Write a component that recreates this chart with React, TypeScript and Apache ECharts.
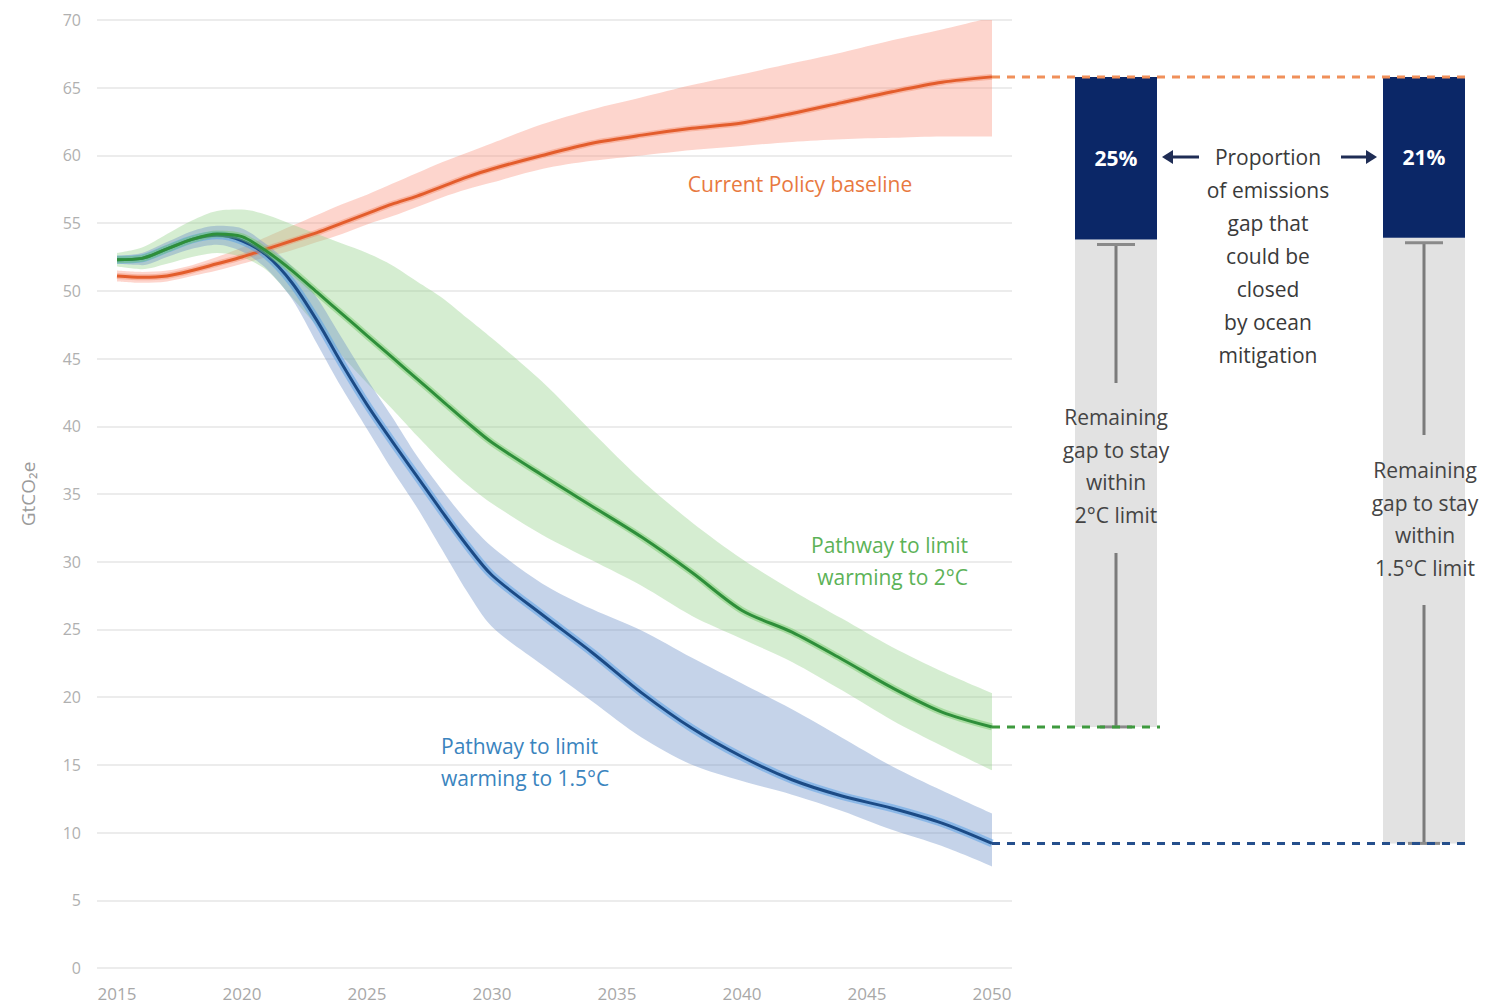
import React, { useEffect, useRef } from "react";
import * as echarts from "echarts";

// ---------- data ----------
const YEARS = [2015, 2016, 2017, 2018, 2019, 2020, 2021, 2022, 2023, 2024, 2025, 2026, 2027, 2028, 2029, 2030, 2032, 2034, 2036, 2038, 2040, 2042, 2044, 2046, 2048, 2050];

const BASELINE = [51.1, 51.0, 51.1, 51.5, 52.0, 52.5, 53.1, 53.7, 54.3, 55.0, 55.7, 56.4, 57.0, 57.7, 58.4, 59.0, 60.0, 60.9, 61.5, 62.0, 62.4, 63.1, 63.9, 64.7, 65.4, 65.8];
const BASELINE_HIGH = [51.5, 51.4, 51.5, 51.9, 52.5, 53.2, 54.0, 54.8, 55.6, 56.4, 57.1, 57.9, 58.7, 59.5, 60.2, 60.9, 62.3, 63.4, 64.3, 65.2, 66.0, 66.8, 67.6, 68.5, 69.3, 70.2];
const BASELINE_LOW = [50.7, 50.6, 50.7, 51.1, 51.5, 52.0, 52.5, 53.0, 53.6, 54.2, 54.9, 55.5, 56.2, 56.9, 57.5, 58.0, 59.0, 59.6, 60.0, 60.4, 60.7, 61.0, 61.2, 61.3, 61.4, 61.4];

const PATH_2C = [52.3, 52.4, 53.1, 53.8, 54.2, 54.0, 52.9, 51.5, 49.9, 48.3, 46.7, 45.1, 43.5, 41.9, 40.3, 38.8, 36.4, 34.1, 31.8, 29.2, 26.4, 24.8, 22.8, 20.7, 18.9, 17.8];
const PATH_2C_HIGH = [52.8, 53.2, 54.2, 55.2, 55.9, 56.0, 55.6, 54.9, 54.2, 53.5, 52.8, 51.9, 50.7, 49.5, 48.0, 46.5, 43.3, 39.6, 36.0, 32.9, 30.2, 27.9, 25.8, 23.7, 21.9, 20.3];
const PATH_2C_LOW = [51.8, 51.6, 52.0, 52.5, 52.8, 52.5, 51.5, 49.5, 47.4, 45.2, 43.2, 41.3, 39.3, 37.4, 35.7, 34.3, 32.0, 30.1, 28.2, 26.0, 24.3, 22.6, 20.5, 18.3, 16.4, 14.6];

const PATH_15C = [52.3, 52.4, 53.1, 53.8, 54.1, 53.7, 52.6, 50.6, 47.8, 44.6, 41.6, 38.9, 36.3, 33.7, 31.2, 29.0, 26.1, 23.3, 20.3, 17.7, 15.6, 13.9, 12.7, 11.8, 10.7, 9.2];
const PATH_15C_HIGH = [52.6, 52.8, 53.6, 54.4, 54.8, 54.6, 53.4, 51.8, 49.5, 46.5, 43.5, 40.7, 37.8, 35.3, 33.0, 31.1, 28.4, 26.5, 24.9, 22.9, 21.0, 19.1, 17.0, 14.9, 13.1, 11.4];
const PATH_15C_LOW = [52.0, 51.9, 52.5, 53.1, 53.4, 52.9, 51.6, 49.4, 46.1, 42.8, 39.8, 36.8, 34.0, 30.9, 27.8, 25.2, 22.4, 19.7, 17.0, 15.0, 13.8, 12.8, 11.6, 10.2, 9.0, 7.5];

const X_TICKS = [2015, 2020, 2025, 2030, 2035, 2040, 2045, 2050];
const Y_MIN = 0;
const Y_MAX = 70;
const Y_STEP = 5;

const GAP_NAMES = ["2°C", "1.5°C"];
const GAP_SHARE_PCT = [25, 21];

// ---------- layout / style ----------
const W = 1496;
const H = 1005;
const FONT = '"Open Sans", "Noto Sans", sans-serif';
const C_ORANGE = "#e35d2c";
const C_ORANGE_BAND = "rgba(249, 150, 130, 0.40)";
const C_GREEN = "#2e8f3a";
const C_GREEN_BAND = "rgba(150, 210, 140, 0.40)";
const C_BLUE = "#1c4b86";
const C_BLUE_BAND = "rgba(110, 145, 200, 0.40)";
const C_NAVY = "#0b2767";
const C_GREY_BAR = "#e2e2e2";
const C_WHISKER = "#7b7b7b";

const GAP_BAR_CENTERS = [1116, 1424];
const GAP_BAR_WIDTH = 82;
const REMAIN_TEXT_CENTER = [466, 518];
const GAP_DASH_COLORS = ["#3e9a3e", "#254f8c"];
const SMOOTH = 0.3;

const last = (a: number[]) => a[a.length - 1];

// Value dimension is placed first so that ECharts stacks the y values (not the years).
function bandSeries(name: string, low: number[], high: number[], color: string) {
  return [
    {
      type: "line",
      name: name + "-base",
      stack: name,
      smooth: SMOOTH,
      symbol: "none",
      silent: true,
      encode: { x: 1, y: 0 },
      lineStyle: { opacity: 0, width: 0 },
      data: YEARS.map((y, i) => [low[i], y]),
      z: 1,
    },
    {
      type: "line",
      name: name + "-band",
      stack: name,
      smooth: SMOOTH,
      symbol: "none",
      silent: true,
      encode: { x: 1, y: 0 },
      lineStyle: { opacity: 0, width: 0 },
      areaStyle: { color, opacity: 1 },
      data: YEARS.map((y, i) => [high[i] - low[i], y]),
      z: 1,
    },
  ];
}

function lineSeries(name: string, values: number[], color: string, glow: string, glowWidth: number, z: number) {
  const data = YEARS.map((y, i) => [y, values[i]]);
  return [
    {
      type: "line",
      name: name + "-glow",
      smooth: SMOOTH,
      symbol: "none",
      silent: true,
      lineStyle: { color: glow, width: glowWidth },
      data,
      z,
    },
    {
      type: "line",
      name,
      smooth: SMOOTH,
      symbol: "none",
      silent: true,
      lineStyle: { color, width: 3 },
      data,
      z: z + 1,
    },
  ];
}

export default function App() {
  const ref = useRef<HTMLDivElement>(null);

  useEffect(() => {
    if (!ref.current) return;
    const chart = echarts.init(ref.current, undefined, { renderer: "svg" });

    const gapTop = last(BASELINE);
    const gapTargets = [last(PATH_2C), last(PATH_15C)];
    const gapData = GAP_NAMES.map((n, i) => {
      const target = gapTargets[i];
      const ocean = gapTop - (GAP_SHARE_PCT[i] / 100) * (gapTop - target);
      return [2050, gapTop, ocean, target, i];
    });

    const textStyle = (extra: any) => ({ font: `21px ${FONT}`, ...extra });

    const option: any = {
      animation: false,
      backgroundColor: "#ffffff",
      grid: { left: 97, top: 20, width: 915, height: 948, containLabel: false },
      xAxis: {
        type: "value",
        min: 2014.2,
        max: 2050.8,
        axisLine: { show: false },
        axisTick: { show: false },
        splitLine: { show: false },
        axisLabel: {
          customValues: X_TICKS,
          color: "#a8a8a8",
          fontSize: 17,
          fontFamily: FONT,
          margin: 17,
          formatter: (v: number) => String(v),
        },
      },
      yAxis: {
        type: "value",
        min: Y_MIN,
        max: Y_MAX,
        interval: Y_STEP,
        name: "GtCO₂e",
        nameLocation: "middle",
        nameRotate: 90,
        nameGap: 60,
        nameTextStyle: { color: "#9a9a9a", fontSize: 19, fontFamily: FONT },
        axisLine: { show: false },
        axisTick: { show: false },
        axisLabel: { color: "#b0b0b0", fontSize: 16, fontFamily: FONT, margin: 16 },
        splitLine: { lineStyle: { color: "#e6e6e6", width: 1.5 } },
      },
      series: [
        ...bandSeries("baseline", BASELINE_LOW, BASELINE_HIGH, C_ORANGE_BAND),
        ...bandSeries("p2", PATH_2C_LOW, PATH_2C_HIGH, C_GREEN_BAND),
        ...bandSeries("p15", PATH_15C_LOW, PATH_15C_HIGH, C_BLUE_BAND),
        ...lineSeries("Current Policy baseline", BASELINE, C_ORANGE, "rgba(240,120,80,0.35)", 6, 3),
        ...lineSeries("Pathway to limit warming to 1.5°C", PATH_15C, C_BLUE, "rgba(90,160,230,0.55)", 8, 5),
        ...lineSeries("Pathway to limit warming to 2°C", PATH_2C, C_GREEN, "rgba(110,200,100,0.45)", 7, 7),
        {
          type: "custom",
          name: "gap",
          clip: false,
          silent: true,
          z: 10,
          encode: { x: 0, y: 1 },
          data: gapData,
          renderItem: (params: any, api: any) => {
            const i = api.value(4) as number;
            const p0 = api.coord([api.value(0), api.value(1)]);
            const x0 = p0[0];
            const yTop = p0[1];
            const yOcean = api.coord([api.value(0), api.value(2)])[1];
            const yTarget = api.coord([api.value(0), api.value(3)])[1];
            const cx = GAP_BAR_CENTERS[i];
            const hw = GAP_BAR_WIDTH / 2;
            const tc = REMAIN_TEXT_CENTER[i];
            const whisker = { stroke: C_WHISKER, lineWidth: 3 };
            const children: any[] = [
              { type: "rect", shape: { x: cx - hw, y: yOcean, width: GAP_BAR_WIDTH, height: yTarget - yOcean }, style: { fill: C_GREY_BAR } },
              { type: "rect", shape: { x: cx - hw, y: yTop, width: GAP_BAR_WIDTH, height: yOcean - yTop }, style: { fill: C_NAVY } },
              {
                type: "text",
                style: {
                  text: GAP_SHARE_PCT[i] + "%",
                  x: cx,
                  y: (yTop + yOcean) / 2,
                  fill: "#ffffff",
                  font: `bold 21px ${FONT}`,
                  align: "center",
                  verticalAlign: "middle",
                },
              },
              { type: "line", shape: { x1: cx, y1: yOcean + 5, x2: cx, y2: tc - 83 }, style: whisker },
              { type: "line", shape: { x1: cx, y1: tc + 87, x2: cx, y2: yTarget }, style: whisker },
              { type: "line", shape: { x1: cx - 19, y1: yOcean + 5, x2: cx + 19, y2: yOcean + 5 }, style: { stroke: "#8a8a8a", lineWidth: 3 } },
              { type: "line", shape: { x1: cx - 16, y1: yTarget, x2: cx + 16, y2: yTarget }, style: { stroke: "#8a8a8a", lineWidth: 3 } },
              {
                type: "line",
                shape: { x1: x0, y1: yTarget, x2: cx + hw + 3, y2: yTarget },
                style: { stroke: GAP_DASH_COLORS[i], lineWidth: 3, lineDash: [8, 7] },
              },
            ];
            if (i === GAP_NAMES.length - 1) {
              children.push({
                type: "line",
                shape: { x1: x0, y1: yTop, x2: cx + hw, y2: yTop },
                style: { stroke: "#f0905a", lineWidth: 3, lineDash: [8, 7] },
              });
            }
            return { type: "group", children };
          },
        },
      ],
      graphic: [
        {
          type: "text",
          silent: true,
          z: 100,
          style: textStyle({ text: "Current Policy baseline", x: 800, y: 184, fill: "#e8793f", align: "center", verticalAlign: "middle" }),
        },
        {
          type: "text",
          silent: true,
          z: 100,
          style: textStyle({ text: "Pathway to limit\nwarming to 2°C", x: 968, y: 529, fill: "#5cb257", align: "right", verticalAlign: "top", lineHeight: 32 }),
        },
        {
          type: "text",
          silent: true,
          z: 100,
          style: textStyle({ text: "Pathway to limit\nwarming to 1.5°C", x: 441, y: 730, fill: "#3a84be", align: "left", verticalAlign: "top", lineHeight: 32 }),
        },
        {
          type: "text",
          silent: true,
          z: 100,
          style: textStyle({
            text: "Proportion\nof emissions\ngap that\ncould be\nclosed\nby ocean\nmitigation",
            x: 1268,
            y: 140,
            fill: "#3a3a3a",
            align: "center",
            verticalAlign: "top",
            lineHeight: 33,
          }),
        },
        {
          type: "text",
          silent: true,
          z: 100,
          style: textStyle({ text: "Remaining\ngap to stay\nwithin\n2°C limit", x: 1116, y: 401, fill: "#444444", align: "center", verticalAlign: "top", lineHeight: 32.5 }),
        },
        {
          type: "text",
          silent: true,
          z: 100,
          style: textStyle({ text: "Remaining\ngap to stay\nwithin\n1.5°C limit", x: 1425, y: 454, fill: "#444444", align: "center", verticalAlign: "top", lineHeight: 32.5 }),
        },
        { type: "line", silent: true, z: 100, shape: { x1: 1170, y1: 157, x2: 1199, y2: 157 }, style: { stroke: "#1f2d55", lineWidth: 3 } },
        { type: "polygon", silent: true, z: 100, shape: { points: [[1162, 157], [1173, 150], [1173, 164]] }, style: { fill: "#1f2d55" } },
        { type: "line", silent: true, z: 100, shape: { x1: 1341, y1: 157, x2: 1368, y2: 157 }, style: { stroke: "#1f2d55", lineWidth: 3 } },
        { type: "polygon", silent: true, z: 100, shape: { points: [[1377, 157], [1366, 150], [1366, 164]] }, style: { fill: "#1f2d55" } },
      ],
    };

    chart.setOption(option);
    return () => chart.dispose();
  }, []);

  return (
    <div
      ref={ref}
      style={{ position: "fixed", left: 0, top: 0, width: W, height: H, background: "#ffffff" }}
    />
  );
}
